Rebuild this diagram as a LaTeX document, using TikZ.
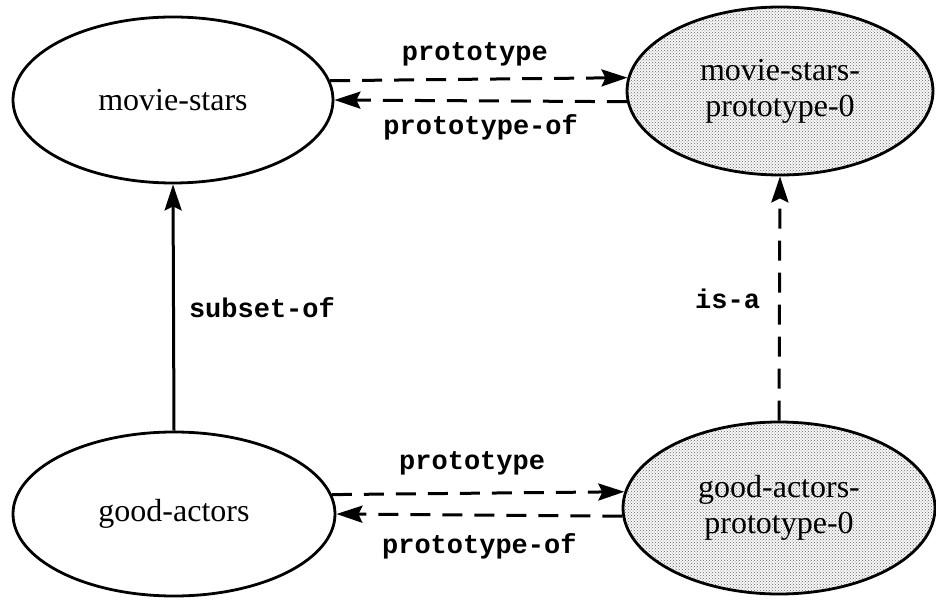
\documentclass[tikz,border=0pt]{standalone}
\usepackage{fontspec}
\setmainfont{Liberation Serif}
\newfontfamily\relfont{Liberation Mono}
\usetikzlibrary{shapes.geometric,arrows.meta,patterns}

\begin{document}
\begin{tikzpicture}[x=1pt,y=-1pt,
  concept/.style={ellipse, draw, line width=2.8pt, inner sep=0pt, align=center,
                  font=\fontsize{32}{36}\selectfont},
  proto/.style={concept, preaction={fill=gray!6},
                pattern=crosshatch dots, pattern color=black!60},
  link/.style={line width=3pt, -{Stealth[length=26pt,width=17pt,inset=4pt]}},
  weak/.style={link, dash pattern=on 20pt off 12pt},
  rel/.style={font=\relfont\bfseries\fontsize{27}{29}\selectfont, inner sep=0pt},
]
\useasboundingbox (0,0) rectangle (936,601);

% concepts on the left, their prototypes on the right
\node[concept, minimum width=320pt, minimum height=166pt] (ms)  at (173,100) {movie-stars};
\node[proto,   minimum width=306pt, minimum height=168pt] (msp) at (780,91)  {movie-stars-\\prototype-0};
\node[concept, minimum width=322pt, minimum height=164pt] (ga)  at (174,514) {good-actors};
\node[proto,   minimum width=312pt, minimum height=172pt] (gap) at (779,508) {good-actors-\\prototype-0};

% upper pair of links
\draw[weak] (ms.7.3) -- node[rel, midway, yshift=25pt, xshift=-4pt] (l1) {prototype} (msp.175.9);
\draw[weak] (msp.184.2) -- node[rel, midway, yshift=-26pt] (l2) {prototype-of} (ms.-0.7);

% lower pair of links
\draw[weak] (ga.7.7) -- node[rel, midway, yshift=30pt, xshift=-6pt] (l3) {prototype} (gap.174.4);
\draw[weak] (gap.183) -- node[rel, midway, yshift=-31pt] (l4) {prototype-of} (ga.-0.7);

% vertical links
\draw[link] (ga.north) -- node[rel, midway, right=14pt] (l5) {subset-of} (ms.south);
\draw[weak] (gap.north) -- node[rel, midway, left=18pt] (l6) {is-a} (msp.south);
\end{tikzpicture}
\end{document}
